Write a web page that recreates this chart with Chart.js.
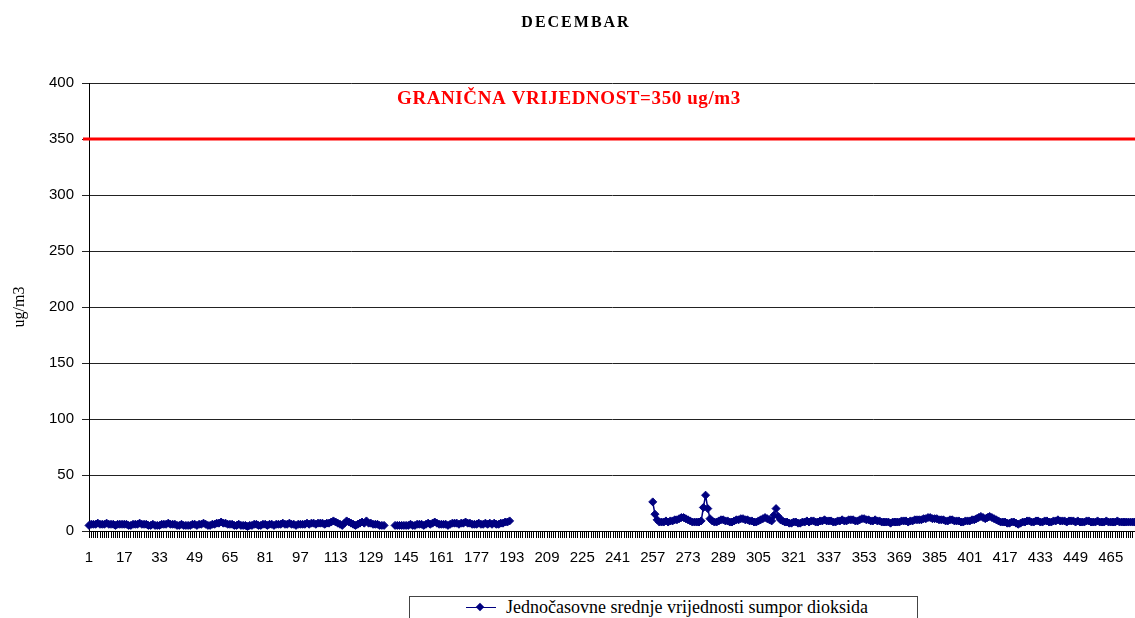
<!DOCTYPE html>
<html>
<head>
<meta charset="utf-8">
<script src="https://cdn.jsdelivr.net/npm/chart.js@4.4.0/dist/chart.umd.min.js"></script>
<style>
    html, body { margin: 0; padding: 0; background: #fff; overflow: hidden; }
    body { width: 1135px; height: 618px; position: relative; }
    #wrap { position: absolute; left: 0; top: 0; width: 1135px; height: 618px; }
    #legend {
        position: absolute; left: 409px; top: 596px; width: 507px; height: 30px;
        border: 1px solid #444; background: #fff;
        font-family: "Liberation Serif", serif; font-size: 18px; color: #000;
    }
    #legend .line { position: absolute; left: 56px; top: 10px; width: 30px; height: 1px; background: #000080; }
    #legend .mark { position: absolute; left: 67px; top: 7px; width: 6px; height: 6px; background: #000080; transform: rotate(45deg); }
    #legend .txt { position: absolute; left: 96px; top: 0px; white-space: nowrap; }
</style>
</head>
<body>
<div id="wrap"><canvas id="chart" width="1135" height="618"></canvas></div>
<div id="legend"><span class="line"></span><span class="mark"></span><span class="txt">Jednočasovne srednje vrijednosti sumpor dioksida</span></div>
<script>
const chartTitle = 'DECEMBAR';
const seriesName = 'Jednočasovne srednje vrijednosti sumpor dioksida';
const limitText = 'GRANIČNA VRIJEDNOST=350 ug/m3';
const limitValue = 350;
const hourCount = 476;
const yTicks = [0, 50, 100, 150, 200, 250, 300, 350, 400];

// hours 1..192 (gap at 136-139)
const firstPart = [
    5,6,6,6,7,6,6,6,7,6,6,6,5,6,6,6,
    6,6,5,5,6,6,6,7,6,6,6,5,5,6,5,5,
    5,6,6,6,7,6,6,6,5,5,6,5,5,5,5,6,
    6,5,6,6,7,6,5,5,6,6,7,7,8,7,7,6,
    6,6,5,5,6,5,5,5,4,5,5,6,6,5,5,6,
    6,5,6,6,5,6,6,6,7,6,6,7,6,6,5,6,
    6,6,6,7,6,7,7,6,7,7,7,6,7,7,8,9,
    8,7,6,5,7,9,8,7,6,5,6,7,8,7,9,7,
    7,6,6,6,5,5,5,null,null,null,null,5,5,5,5,5,
    5,5,6,5,5,6,6,6,5,6,7,6,7,8,7,6,
    6,6,6,5,6,7,7,7,6,7,7,8,7,7,6,6,
    6,7,6,6,7,6,7,6,7,6,6,7,7,8,8,9
];
// hours 193..256 missing
const missingCount = 64;
// hours 257..476
const secondPart = [
    26,15,10,8,8,8,9,8,9,9,10,10,11,12,12,11,
    10,9,8,8,8,8,9,21,32,20,11,9,8,8,9,10,
    10,9,9,8,8,9,10,10,11,11,10,10,9,9,8,8,
    9,10,11,12,11,10,9,14,20,13,10,9,8,8,7,7,
    8,8,7,7,8,8,9,8,9,9,8,8,9,9,10,9,
    9,9,8,8,9,9,10,9,9,10,10,10,9,9,10,11,
    11,10,10,9,9,10,9,9,8,8,8,8,7,8,8,8,
    8,9,9,9,8,9,9,10,10,10,10,11,11,12,12,11,
    11,11,10,10,10,9,9,10,10,9,9,9,8,8,9,9,
    9,10,10,11,12,13,12,11,12,13,12,11,10,9,8,8,
    8,7,7,8,8,7,6,7,8,8,9,9,8,8,9,9,
    8,8,9,9,8,8,9,9,10,9,9,9,8,9,9,9,
    8,9,8,8,8,9,9,8,8,8,9,8,8,8,9,8,
    8,8,8,9,8,8,8,8,8,8,8,8
];

const labels = [];
for (let i = 1; i <= hourCount; i++) labels.push(String(i));
const values = firstPart.concat(new Array(missingCount).fill(null), secondPart);

// red limit line + texts drawn on the canvas
const extrasPlugin = {
    id: 'extras',
    beforeDatasetsDraw(chart) {
        const ctx = chart.ctx;
        const y = chart.scales.y.getPixelForValue(limitValue);
        ctx.save();
        ctx.strokeStyle = '#ff0000';
        ctx.lineWidth = 3;
        ctx.beginPath();
        ctx.moveTo(chart.chartArea.left - 6, y);
        ctx.lineTo(chart.chartArea.right, y);
        ctx.stroke();
        ctx.restore();
    },
    afterDraw(chart) {
        const ctx = chart.ctx;
        ctx.save();
        ctx.fillStyle = '#000';
        ctx.font = 'bold 16px "Liberation Serif"';
        ctx.letterSpacing = '2px';
        ctx.textAlign = 'center';
        ctx.textBaseline = 'alphabetic';
        ctx.fillText(chartTitle, 576, 27);
        ctx.fillStyle = '#ff0000';
        ctx.font = 'bold 19px "Liberation Serif"';
        ctx.letterSpacing = '0.6px';
        ctx.textAlign = 'left';
        ctx.fillText(limitText, 397, 104);
        ctx.restore();
    }
};

new Chart(document.getElementById('chart').getContext('2d'), {
    type: 'line',
    data: {
        labels: labels,
        datasets: [{
            label: seriesName,
            data: values,
            borderColor: '#000080',
            backgroundColor: '#000080',
            borderWidth: 1.5,
            pointStyle: 'rectRot',
            pointRadius: 4,
            pointBorderWidth: 1,
            tension: 0,
            spanGaps: false
        }]
    },
    options: {
        responsive: false,
        animation: false,
        layout: { autoPadding: false, padding: { top: 83, left: 0, right: 0, bottom: 0 } },
        plugins: {
            legend: { display: false },
            title: { display: false },
            tooltip: { enabled: false }
        },
        scales: {
            x: {
                afterFit(scale) {
                    scale.height = 87;
                    scale.paddingRight = 0;
                    scale.paddingLeft = 0;
                },
                grid: { display: true, drawOnChartArea: false, drawTicks: true, tickLength: 7, color: '#000', lineWidth: 1 },
                border: { color: '#000', width: 1 },
                ticks: {
                    autoSkip: false,
                    maxRotation: 0,
                    minRotation: 0,
                    padding: 11,
                    color: '#000',
                    font: { family: '"Liberation Sans"', size: 15 },
                    callback: (v, i) => (i % 16 === 0 ? labels[i] : '')
                }
            },
            y: {
                min: 0,
                max: 400,
                afterFit(scale) { scale.width = 89; },
                afterBuildTicks(scale) { scale.ticks = yTicks.map(v => ({ value: v })); },
                grid: { color: '#222', lineWidth: 1, tickLength: 7 },
                border: { color: '#000', width: 1 },
                ticks: {
                    padding: 8,
                    color: '#000',
                    font: { family: '"Liberation Sans"', size: 15 }
                },
                title: {
                    display: true,
                    text: 'ug/m3',
                    color: '#000',
                    padding: { top: 10, bottom: 0 },
                    font: { family: '"Liberation Serif"', size: 16 }
                }
            }
        }
    },
    plugins: [extrasPlugin]
});
</script>
</body>
</html>
